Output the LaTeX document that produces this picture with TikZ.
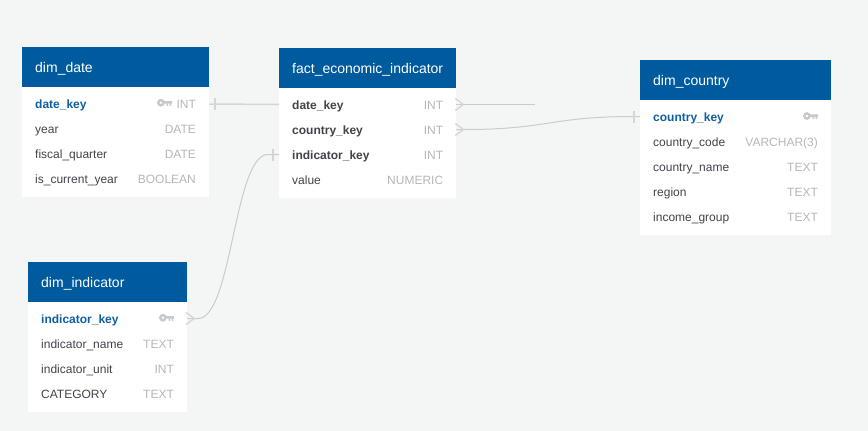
\documentclass[tikz,border=0pt]{standalone}
\usepackage{fontspec}
\setmainfont{Liberation Sans}
\definecolor{pagebg}{HTML}{F4F6F6}
\definecolor{headblue}{HTML}{005A9E}
\definecolor{keyblue}{HTML}{0F60A3}
\definecolor{rowdark}{HTML}{40454C}
\definecolor{typegray}{HTML}{B4B7BB}
\definecolor{iconGray}{HTML}{C6C9CE}
\definecolor{linkgray}{HTML}{CACCCC}
\definecolor{marklight}{HTML}{D4D6D6}
\tikzset{
  headbox/.style={fill=headblue,text=white,anchor=north west,inner xsep=13pt,inner ysep=0pt,
    minimum height=40pt,font=\fontsize{14}{16}\selectfont,text height=12pt,text depth=1.5pt,align=left},
  bodybox/.style={fill=white,anchor=north west,inner sep=0pt},
  rowbox/.style={anchor=west,inner xsep=13pt,inner ysep=0pt,minimum height=25pt,
    font=\fontsize{12}{14}\selectfont,text=rowdark,text height=10.5pt,text depth=1.5pt},
  link/.style={draw=linkgray,line width=1pt},
  heavylink/.style={draw=marklight,line width=1.5pt},
  crowmark/.style={draw=marklight,line width=1.3pt},
}
\newcommand{\tbl}[6]{% name x y w total-h title
  \node[bodybox,minimum width=#4pt,minimum height=#5pt] (#1) at (#2,#3) {};
  \node[headbox,minimum width=#4pt,text width=#4pt-26pt] (#1h) at (#2,#3) {#6};}
\newcommand{\rw}[6]{% name x y w left right
  \node[rowbox,text width=#4pt-26pt] (#1) at (#2,#3) {#5\hfill{\color{typegray}#6}};}
\newcommand{\kcell}[1]{{\bfseries\color{keyblue}#1}}
\newcommand{\bcell}[1]{{\bfseries #1}}
\newcommand{\keyicon}[2]{%
  \draw[iconGray,line width=2.4pt] (#1+3.9,#2) circle (2.6pt);
  \fill[iconGray] (#1+6.5,#2-1.7) rectangle (#1+15,#2+1)
     (#1+9.5,#2) rectangle (#1+11,#2+3.2) (#1+12.5,#2) rectangle (#1+14,#2+3.2);}
\begin{document}
\begin{tikzpicture}[x=1pt,y=-1pt]
\useasboundingbox[fill=pagebg] (0,0) rectangle (868,431);

% tables
\tbl{date}{22}{47}{186.7}{150}{dim\_date}
\rw{ddk}{22}{103.5}{186.7}{\kcell{date\_key}}{INT}
\rw{dy}{22}{128.5}{186.7}{year}{DATE}
\rw{dq}{22}{153.5}{186.7}{fiscal\_quarter}{DATE}
\rw{dc}{22}{178.5}{186.7}{is\_current\_year}{BOOLEAN}
\keyicon{157}{102.7}

\tbl{fact}{279}{48}{177}{150}{fact\_economic\_indicator}
\rw{fd}{279}{104.5}{177}{\bcell{date\_key}}{INT}
\rw{fc}{279}{129.5}{177}{\bcell{country\_key}}{INT}
\rw{fi}{279}{154.5}{177}{\bcell{indicator\_key}}{INT}
\rw{fv}{279}{179.5}{177}{value}{NUMERIC}

\tbl{country}{640}{60}{190.7}{175}{dim\_country}
\rw{cck}{640}{116.5}{190.7}{\kcell{country\_key}}{}
\rw{ccc}{640}{141.5}{190.7}{country\_code}{VARCHAR(3)}
\rw{ccn}{640}{166.5}{190.7}{country\_name}{TEXT}
\rw{ccr}{640}{191.5}{190.7}{region}{TEXT}
\rw{cci}{640}{216.5}{190.7}{income\_group}{TEXT}
\keyicon{803}{116}

\tbl{ind}{28}{262}{158.7}{150}{dim\_indicator}
\rw{iik}{28}{318.5}{158.7}{\kcell{indicator\_key}}{}
\rw{iin}{28}{343.5}{158.7}{indicator\_name}{TEXT}
\rw{iiu}{28}{368.5}{158.7}{indicator\_unit}{INT}
\rw{iic}{28}{393.5}{158.7}{CATEGORY}{TEXT}
\keyicon{159}{317.7}

% free end of the dangling connector
\coordinate (loose) at (535,104.5);

% connectors
\draw[heavylink] ([yshift=-.5pt]ddk.east) -- (fd.west);
\draw[heavylink] (ddk.east) ++(6,-6) -- ++(0,12);

\draw[heavylink,draw=linkgray] (fd.east) -- (loose);
\draw[crowmark] (fd.east) ++(-1,-6) -- ++(8,6) -- ++(-8,6);

\draw[link] (fc.east) -- ++(8,0) .. controls +(84,0) and +(-84,0) .. ([xshift=-6pt]cck.west) -- (cck.west);
\draw[crowmark] (fc.east) ++(-1,-6) -- ++(8,6) -- ++(-8,6);
\draw[heavylink] (cck.west) ++(-6,-6) -- ++(0,12);

\draw[link] (iik.east) -- ++(11,0) .. controls +(34,0) and +(-34,0) .. ([xshift=-11pt]fi.west) -- (fi.west);
\draw[crowmark] (iik.east) ++(-1,-6) -- ++(8,6) -- ++(-8,6);
\draw[heavylink] (fi.west) ++(-6,-6) -- ++(0,12);
\end{tikzpicture}
\end{document}
